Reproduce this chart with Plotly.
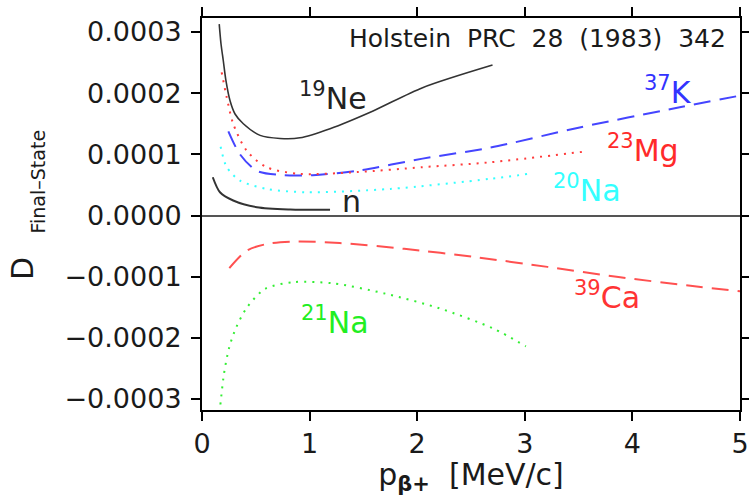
import plotly.graph_objects as go

# ---- data ----
ne19_x = [0.16, 0.177, 0.198, 0.223, 0.26, 0.307, 0.384, 0.54, 0.725, 0.91, 1.19, 1.59, 2.05, 2.70]
ne19_y = [3.13e-4, 2.80e-4, 2.53e-4, 2.20e-4, 1.88e-4, 1.66e-4, 1.50e-4, 1.31e-4, 1.26e-4, 1.27e-4, 1.42e-4, 1.71e-4, 2.09e-4, 2.46e-4]

n_x = [0.10, 0.167, 0.29, 0.51, 0.82, 1.19]
n_y = [0.625e-4, 0.38e-4, 0.245e-4, 0.135e-4, 0.098e-4, 0.093e-4]

k37_x = [0.245, 0.353, 0.51, 0.755, 1.03, 1.44, 2.05, 2.68, 3.51, 4.44, 5.0]
k37_y = [1.375e-4, 1.0e-4, 0.73e-4, 0.66e-4, 0.66e-4, 0.73e-4, 0.93e-4, 1.11e-4, 1.44e-4, 1.77e-4, 1.96e-4]

mg23_x = [0.183, 0.23, 0.29, 0.415, 0.60, 0.91, 1.44, 2.05, 2.68, 3.53]
mg23_y = [2.34e-4, 1.93e-4, 1.5e-4, 1.06e-4, 0.79e-4, 0.68e-4, 0.71e-4, 0.79e-4, 0.87e-4, 1.04e-4]

na20_x = [0.173, 0.23, 0.353, 0.60, 0.97, 1.75, 2.68, 3.03]
na20_y = [1.125e-4, 0.79e-4, 0.57e-4, 0.435e-4, 0.38e-4, 0.435e-4, 0.60e-4, 0.68e-4]

ca39_x = [0.254, 0.42, 0.62, 0.88, 1.28, 1.88, 2.54, 3.21, 3.87, 4.54, 5.0]
ca39_y = [-0.86e-4, -0.57e-4, -0.46e-4, -0.425e-4, -0.45e-4, -0.545e-4, -0.68e-4, -0.84e-4, -1.005e-4, -1.15e-4, -1.24e-4]

na21_x = [0.171, 0.205, 0.254, 0.32, 0.42, 0.585, 0.85, 1.22, 1.71, 2.21, 2.71, 3.01]
na21_y = [-3.09e-4, -2.58e-4, -2.15e-4, -1.82e-4, -1.50e-4, -1.2e-4, -1.09e-4, -1.11e-4, -1.28e-4, -1.52e-4, -1.85e-4, -2.14e-4]

y_ticks = [-0.0003, -0.0002, -0.0001, 0.0, 0.0001, 0.0002, 0.0003]
x_ticks = [0, 1, 2, 3, 4, 5]

FONT = "DejaVu Sans"
TXT = "#1a1a1a"

fig = go.Figure()

def add(x, y, color, dash, width=1.6):
    fig.add_trace(go.Scatter(x=x, y=y, mode="lines",
                             line=dict(color=color, dash=dash, width=width, shape="spline", smoothing=0.8),
                             showlegend=False, hoverinfo="skip"))

add(ne19_x, ne19_y, "#333333", "solid")
add(n_x, n_y, "#333333", "solid", 2)
add(k37_x, k37_y, "#4545ff", "17px,9px", 2)
add(mg23_x, mg23_y, "#ff3b3b", "2px,6px", 2)
add(na20_x, na20_y, "#33ffff", "2px,6px", 2)
add(ca39_x, ca39_y, "#ff5050", "17px,9px", 2)
add(na21_x, na21_y, "#33ee33", "2px,6px", 2)

labels = [
    (1.22, 1.94e-4, "<sup>19</sup>Ne", "#222222"),
    (1.385, 0.23e-4, "n", "#222222"),
    (4.33, 2.04e-4, "<sup>37</sup>K", "#3333ff"),
    (4.10, 1.09e-4, "<sup>23</sup>Mg", "#ff2a2a"),
    (3.58, 0.44e-4, "<sup>20</sup>Na", "#33ffff"),
    (3.76, -1.31e-4, "<sup>39</sup>Ca", "#ff3333"),
    (1.24, -1.71e-4, "<sup>21</sup>Na", "#22ee22"),
]
for lx, ly, txt, col in labels:
    fig.add_annotation(x=lx, y=ly, xref="x", yref="y", text=txt, showarrow=False,
                       font=dict(family=FONT, size=30, color=col), xanchor="center", yanchor="middle")

fig.add_annotation(x=4.89, y=2.90e-4, xref="x", yref="y",
                   text="Holstein\u00a0\u00a0PRC\u00a0\u00a028\u00a0\u00a0(1983)\u00a0\u00a0342",
                   showarrow=False, xanchor="right", yanchor="middle",
                   font=dict(family=FONT, size=25, color=TXT))

# y axis title pieces (pixel positions, converted to paper below)
fig.add_annotation(x=22, y=269, xref="paper", yref="paper", text="D", showarrow=False,
                   textangle=-90, font=dict(family=FONT, size=30, color=TXT))
fig.add_annotation(x=37.5, y=182, xref="paper", yref="paper", text="Final\u2013State", showarrow=False,
                   textangle=-90, font=dict(family=FONT, size=19, color=TXT))

fig.update_layout(
    template="none",
    width=749, height=496,
    margin=dict(l=202, r=9, t=18, b=86, autoexpand=False),
    paper_bgcolor="white", plot_bgcolor="white",
    font=dict(family=FONT, color=TXT),
    xaxis=dict(range=[0, 5], tickvals=x_ticks, ticks="outside", ticklen=9, tickwidth=2, tickcolor="black",
               showline=True, linewidth=2, linecolor="black", mirror="ticks", showgrid=False, zeroline=False,
               automargin=False,
               tickfont=dict(family=FONT, size=27, color=TXT),
               title=dict(text="p<sub><b>\u03b2+</b></sub>\u00a0\u00a0[MeV/c]", font=dict(family=FONT, size=30, color=TXT), standoff=4)),
    yaxis=dict(range=[-3.18e-4, 3.229e-4], tickvals=y_ticks, tickformat=".4f", ticks="outside", ticklen=9, tickwidth=2,
               tickcolor="black",
               showline=True, linewidth=2, linecolor="black", mirror="ticks", showgrid=False, automargin=False,
               zeroline=True, zerolinecolor="#555555", zerolinewidth=2,
               tickfont=dict(family=FONT, size=27, color=TXT), ticklabelstandoff=4),
)

pw = 749 - 202 - 9
ph = 496 - 18 - 86
for ann in fig.layout.annotations:
    if ann.xref == "paper":
        px, py = ann.x, ann.y
        ann.x = (px - 202) / pw
        ann.y = (496 - 86 - py) / ph
        ann.xanchor = "center"
        ann.yanchor = "middle"

fig.write_html("out.html")
